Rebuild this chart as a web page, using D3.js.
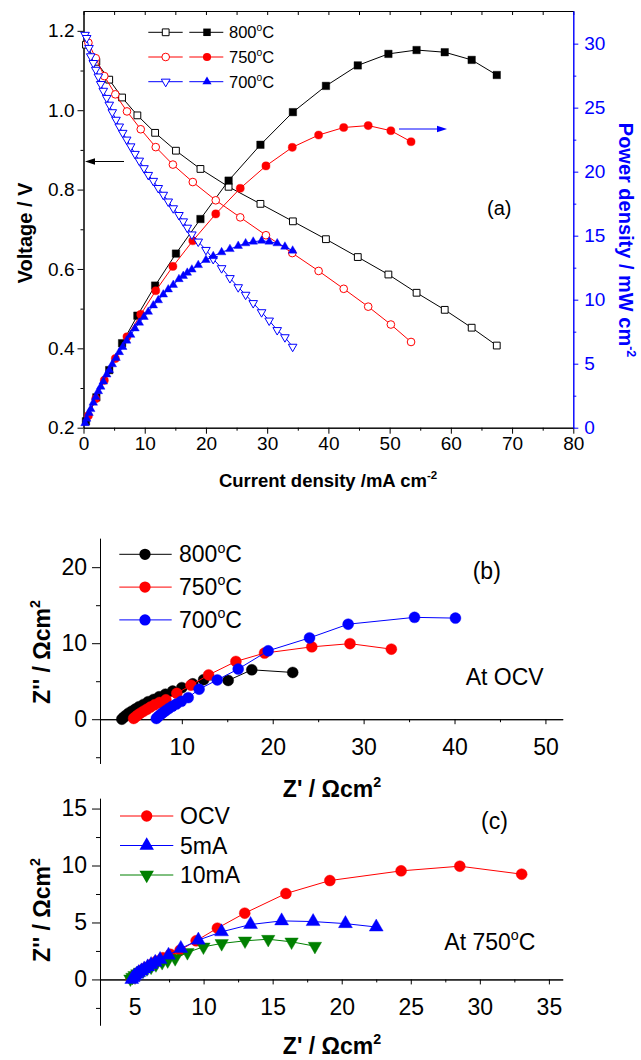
<!DOCTYPE html>
<html>
<head>
<meta charset="utf-8">
<script src="https://cdn.jsdelivr.net/npm/d3@7"></script>
<style>
body { margin: 0; background: #fff; }
svg { display: block; font-family: "Liberation Sans", Arial, sans-serif; }
</style>
</head>
<body>
<div id="container"></div>
<script>
// ---- panel (a): I-V and I-P curves ----
const cur800  = [0.4, 2.1, 4.2, 6.3, 8.8, 11.7, 15.1, 19.1, 23.7, 28.9, 34.2, 39.6, 44.8, 49.8, 54.4, 59.0, 63.4, 67.5];
const volt800 = [1.165, 1.122, 1.077, 1.032, 0.987, 0.943, 0.898, 0.852, 0.807, 0.764, 0.720, 0.675, 0.630, 0.586, 0.540, 0.497, 0.452, 0.407];
const pow800  = [0.5, 2.37, 4.5, 6.6, 8.75, 11.1, 13.6, 16.3, 19.3, 22.1, 24.65, 26.7, 28.3, 29.2, 29.5, 29.33, 28.73, 27.55];

const cur750  = [0.8, 2.0, 3.4, 5.2, 7.1, 9.35, 11.8, 14.6, 17.85, 21.6, 25.6, 29.8, 34.1, 38.4, 42.5, 46.5, 50.2, 53.5];
const volt750 = [1.170, 1.131, 1.086, 1.040, 0.997, 0.952, 0.907, 0.863, 0.819, 0.773, 0.730, 0.685, 0.640, 0.595, 0.550, 0.505, 0.460, 0.416];
const pow750  = [0.94, 2.26, 3.7, 5.4, 7.1, 8.85, 10.7, 12.6, 14.6, 16.7, 18.7, 20.45, 21.9, 22.86, 23.45, 23.6, 23.2, 22.34];

const cur700  = [0.25, 0.52, 0.9, 1.18, 1.6, 2.0, 2.42, 2.81, 3.23, 3.79, 4.21, 4.7, 5.31, 5.84, 6.4, 7.05, 7.7, 8.41, 9.11, 9.88,
                 10.58, 11.4, 12.21, 13.03, 13.84, 14.66, 15.59, 16.29, 16.95, 17.7, 18.74, 20.0, 21.19, 22.56, 23.92, 25.27, 26.48, 27.72, 29.09, 30.33,
                 31.64, 32.9, 34.16];
const volt700 = [1.19, 1.182, 1.157, 1.136, 1.119, 1.102, 1.085, 1.066, 1.049, 1.031, 1.014, 0.995, 0.976, 0.959, 0.943, 0.926, 0.909, 0.890, 0.873, 0.854,
                 0.837, 0.822, 0.804, 0.787, 0.770, 0.753, 0.736, 0.720, 0.704, 0.687, 0.669, 0.648, 0.625, 0.602, 0.577, 0.554, 0.535, 0.514, 0.491, 0.470,
                 0.446, 0.428, 0.404];
const pow700  = [0.35, 0.7, 1.15, 1.45, 1.95, 2.4, 2.85, 3.2, 3.6, 4.15, 4.5, 4.95, 5.45, 5.9, 6.3, 6.8, 7.25, 7.75, 8.2, 8.65,
                 9.05, 9.55, 9.95, 10.4, 10.8, 11.15, 11.6, 11.85, 12.1, 12.35, 12.7, 13.1, 13.4, 13.7, 13.95, 14.2, 14.4, 14.53, 14.6, 14.53,
                 14.4, 14.14, 13.83];

const xTicksA = [0, 10, 20, 30, 40, 50, 60, 70, 80];
const vTicks  = [0.2, 0.4, 0.6, 0.8, 1.0, 1.2];
const pTicks  = [0, 5, 10, 15, 20, 25, 30];

// ---- panel (b): impedance at OCV ----
const z800re = [3.4, 3.6, 3.85, 4.15, 4.5, 4.9, 5.3, 5.8, 6.3, 6.9, 7.5, 8.2, 9.0, 10.0, 11.2, 12.4, 15.1, 17.7, 22.2];
const z800im = [0.0, 0.25, 0.5, 0.8, 1.05, 1.35, 1.65, 1.95, 2.3, 2.6, 2.95, 3.3, 3.7, 4.15, 4.65, 5.2, 5.1, 6.5, 6.15];
const z750re = [4.7, 4.9, 5.15, 5.45, 5.8, 6.15, 6.55, 7.0, 7.55, 8.25, 9.45, 11.0, 12.95, 15.95, 19.1, 24.3, 28.5, 33.05];
const z750im = [0.1, 0.3, 0.55, 0.8, 1.05, 1.3, 1.6, 1.9, 2.2, 2.55, 3.4, 4.48, 5.83, 7.6, 8.7, 9.52, 9.94, 9.22];
const z700re = [7.2, 7.4, 7.65, 7.9, 8.2, 8.55, 8.95, 9.4, 9.95, 10.7, 11.9, 13.9, 16.2, 19.5, 24.05, 28.3, 35.6, 40.1];
const z700im = [0.1, 0.35, 0.6, 0.85, 1.1, 1.4, 1.7, 2.0, 2.35, 2.84, 3.95, 5.17, 6.6, 9.0, 10.7, 12.5, 13.4, 13.3];

const xTicksB = [10, 20, 30, 40, 50];
const yTicksB = [0, 10, 20];

// ---- panel (c): impedance at 750 C under load ----
const zOcvRe = [4.75, 4.95, 5.2, 5.5, 5.85, 6.2, 6.6, 7.05, 7.6, 8.3, 9.46, 11.0, 12.98, 15.96, 19.14, 24.3, 28.55, 33.03];
const zOcvIm = [0.1, 0.3, 0.55, 0.8, 1.05, 1.3, 1.6, 1.9, 2.2, 2.57, 3.39, 4.5, 5.82, 7.54, 8.68, 9.53, 9.94, 9.24];
const z5Re  = [4.8, 4.9, 5.0, 5.15, 5.3, 5.5, 5.7, 5.95, 6.2, 6.5, 6.85, 7.46, 8.35, 9.62, 11.3, 13.4, 15.65, 17.93, 20.27, 22.5];
const z5Im  = [0.0, 0.15, 0.3, 0.45, 0.6, 0.75, 0.92, 1.1, 1.3, 1.5, 1.75, 2.13, 2.72, 3.45, 4.18, 4.82, 5.14, 5.08, 4.9, 4.6];
const z10Re = [4.7, 4.85, 5.0, 5.2, 5.4, 5.65, 5.9, 6.2, 6.55, 7.0, 7.4, 7.94, 8.83, 9.99, 11.31, 13.0, 14.68, 16.37, 18.06];
const z10Im = [0.05, 0.2, 0.35, 0.5, 0.65, 0.8, 0.95, 1.1, 1.3, 1.5, 1.65, 1.84, 2.37, 2.86, 3.16, 3.39, 3.53, 3.3, 2.92];

const xTicksC = [5, 10, 15, 20, 25, 30, 35];
const yTicksC = [0, 5, 10, 15];

const RED = "#ff0000", BLUE = "#0000ff", GREEN = "#008000";

const svg = d3.select("#container").append("svg")
  .attr("width", 641).attr("height", 1060)
  .style("background-color", "white");

// draw a connected series with symbols
function series(g, xs, ys, sx, sy, o) {
  const pts = xs.map((x, i) => [sx(x), sy(ys[i])]);
  g.append("path").attr("d", d3.line()(pts))
    .attr("fill", "none").attr("stroke", o.color).attr("stroke-width", 1);
  g.selectAll(null).data(pts).enter().append("path")
    .attr("transform", d => "translate(" + d[0] + "," + d[1] + ")" + (o.down ? " rotate(180)" : ""))
    .attr("d", d3.symbol(o.type, o.size)())
    .attr("fill", o.open ? "#fff" : o.color)
    .attr("stroke", o.color)
    .attr("stroke-width", o.open ? 1 : 0.4);
}

function styleAxis(g, fs, color) {
  g.attr("font-size", fs).attr("font-family", null);
  g.selectAll("path, line").attr("stroke", color || "#000");
  g.selectAll("text").attr("fill", color || "#000");
  return g;
}

// text with superscript parts: parts = ["800", ["o"], "C"]
function label(parent, x, y, parts, o) {
  const fs = o.fs;
  const t = parent.append("text")
    .attr("transform", "translate(" + x + "," + y + ")" + (o.rotate ? " rotate(" + o.rotate + ")" : ""))
    .attr("font-size", fs)
    .attr("font-weight", o.bold ? "bold" : null)
    .attr("fill", o.color || "#000")
    .attr("text-anchor", o.anchor || "start");
  let up = false;
  parts.forEach(p => {
    if (Array.isArray(p)) {
      t.append("tspan").attr("font-size", fs * 0.62).attr("dy", -fs * 0.42).text(p[0]);
      up = true;
    } else {
      const s = t.append("tspan").text(p);
      if (up) { s.attr("dy", fs * 0.42); up = false; }
    }
  });
  return t;
}

// =================== panel (a) ===================
const xA = d3.scaleLinear().domain([0, 80]).range([83.5, 573.3]);
const yV = d3.scaleLinear().domain([0.2, 1.25]).range([427.7, 11]);
const yP = d3.scaleLinear().domain([0, 32.55]).range([427.7, 11]);

const gA = svg.append("g");

// top frame line with inward ticks
styleAxis(gA.append("g").attr("transform", "translate(0,11)")
  .call(d3.axisBottom(xA).tickValues(d3.range(0, 81, 5)).tickSize(4).tickSizeOuter(0).tickFormat("")), 10);

styleAxis(gA.append("g").attr("transform", "translate(0,427.7)")
  .call(d3.axisBottom(xA).tickValues(d3.range(5, 80, 10)).tickSize(3).tickSizeOuter(0).tickFormat("")), 10);
const axA = styleAxis(gA.append("g").attr("transform", "translate(0,427.7)")
  .call(d3.axisBottom(xA).tickValues(xTicksA).tickSize(6).tickSizeOuter(0)), 19);
axA.selectAll("text").attr("y", 22.5).attr("dy", null);

styleAxis(gA.append("g").attr("transform", "translate(83.5,0)")
  .call(d3.axisLeft(yV).tickValues(d3.range(0.3, 1.25, 0.2)).tickSize(3).tickSizeOuter(0).tickFormat("")), 10);
styleAxis(gA.append("g").attr("transform", "translate(83.5,0)")
  .call(d3.axisLeft(yV).tickValues(vTicks).tickSize(6).tickPadding(3).tickSizeOuter(0).tickFormat(d3.format(".1f"))), 19);

styleAxis(gA.append("g").attr("transform", "translate(573.3,0)")
  .call(d3.axisRight(yP).tickValues(d3.range(2.5, 30, 5)).tickSize(3).tickSizeOuter(0).tickFormat("")), 10, BLUE);
styleAxis(gA.append("g").attr("transform", "translate(573.3,0)")
  .call(d3.axisRight(yP).tickValues(pTicks).tickSize(5).tickPadding(6).tickSizeOuter(0)), 19, BLUE);

const sq = d3.symbolSquare, ci = d3.symbolCircle, tr = d3.symbolTriangle;
series(gA, cur800, volt800, xA, yV, { color: "#000", type: sq, size: 46, open: true });
series(gA, cur800, pow800, xA, yP, { color: "#000", type: sq, size: 56 });
series(gA, cur750, volt750, xA, yV, { color: RED, type: ci, size: 46, open: true });
series(gA, cur750, pow750, xA, yP, { color: RED, type: ci, size: 52 });
series(gA, cur700, volt700, xA, yV, { color: BLUE, type: tr, size: 32, open: true, down: true });
series(gA, cur700, pow700, xA, yP, { color: BLUE, type: tr, size: 32 });

// legend (a)
const legA = [
  { name: "800", color: "#000", type: sq, s1: 46, s2: 56, down: false },
  { name: "750", color: RED, type: ci, s1: 46, s2: 52, down: false },
  { name: "700", color: BLUE, type: tr, s1: 34, s2: 36, down: true }
];
legA.forEach((d, i) => {
  const y = 32.3 + i * 24.7;
  const g = gA.append("g");
  g.append("line").attr("x1", 148.3).attr("x2", 182.7).attr("y1", y).attr("y2", y).attr("stroke", d.color);
  g.append("line").attr("x1", 189.3).attr("x2", 223.3).attr("y1", y).attr("y2", y).attr("stroke", d.color);
  g.append("path").attr("transform", "translate(165.7," + y + ")" + (d.down ? " rotate(180)" : ""))
    .attr("d", d3.symbol(d.type, d.s1)()).attr("fill", "#fff").attr("stroke", d.color);
  g.append("path").attr("transform", "translate(207," + y + ")")
    .attr("d", d3.symbol(d.type, d.s2)()).attr("fill", d.color);
  label(g, 229, y + 6, [d.name, ["o"], "C"], { fs: 16.5 });
});

// arrows
gA.append("line").attr("x1", 124).attr("x2", 92).attr("y1", 161.5).attr("y2", 161.5).attr("stroke", "#000");
gA.append("path").attr("d", "M85,161.5L95,158.3L95,164.7Z").attr("fill", "#000");
gA.append("line").attr("x1", 399).attr("x2", 440).attr("y1", 129).attr("y2", 129).attr("stroke", BLUE);
gA.append("path").attr("d", "M447,129L437,125.8L437,132.2Z").attr("fill", BLUE);

label(gA, 487, 215, ["(a)"], { fs: 20 });
label(gA, 328, 487, ["Current density /mA cm", ["-2"]], { fs: 18.5, bold: true, anchor: "middle" });
label(gA, 32, 233, ["Voltage / V"], { fs: 20, bold: true, anchor: "middle", rotate: -90 });
label(gA, 619, 240, ["Power density / mW cm", ["-2"]], { fs: 20, bold: true, anchor: "middle", rotate: 90, color: BLUE });

// =================== panel (b) ===================
const xB = d3.scaleLinear().domain([1, 51.9]).range([100, 562.7]);
const yB = d3.scaleLinear().domain([-5.8, 23.8]).range([763.3, 538.3]);
const gB = svg.append("g");

styleAxis(gB.append("g").attr("transform", "translate(100,0)")
  .call(d3.axisLeft(yB).tickValues([-5, 5, 15]).tickSize(4).tickSizeOuter(0).tickFormat("")), 10);
styleAxis(gB.append("g").attr("transform", "translate(100,0)")
  .call(d3.axisLeft(yB).tickValues(yTicksB).tickSize(8).tickPadding(5).tickSizeOuter(0)), 23);
styleAxis(gB.append("g").attr("transform", "translate(0," + yB(0) + ")")
  .call(d3.axisBottom(xB).tickValues([5, 15, 25, 35, 45]).tickSize(3).tickSizeOuter(0).tickFormat("")), 10);
const axB = styleAxis(gB.append("g").attr("transform", "translate(0," + yB(0) + ")")
  .call(d3.axisBottom(xB).tickValues(xTicksB).tickSize(5).tickSizeOuter(0)), 23);
axB.selectAll("text").attr("y", 35.7).attr("dy", null);

series(gB, z800re, z800im, xB, yB, { color: "#000", type: ci, size: 95 });
series(gB, z750re, z750im, xB, yB, { color: RED, type: ci, size: 95 });
series(gB, z700re, z700im, xB, yB, { color: BLUE, type: ci, size: 95 });

[["800", "#000"], ["750", RED], ["700", BLUE]].forEach((d, i) => {
  const y = 554.3 + i * 32.8;
  gB.append("line").attr("x1", 119.3).attr("x2", 171.7).attr("y1", y).attr("y2", y).attr("stroke", d[1]);
  gB.append("path").attr("transform", "translate(145," + y + ")").attr("d", d3.symbol(ci, 100)()).attr("fill", d[1]);
  label(gB, 179, y + 8, [d[0], ["o"], "C"], { fs: 23 });
});

label(gB, 472.7, 578.5, ["(b)"], { fs: 23 });
label(gB, 465.7, 685, ["At OCV"], { fs: 23 });
label(gB, 332, 797, ["Z' / \u03A9cm", ["2"]], { fs: 23, bold: true, anchor: "middle" });
label(gB, 50, 652, ["Z'' / \u03A9cm", ["2"]], { fs: 23, bold: true, anchor: "middle", rotate: -90 });

// =================== panel (c) ===================
const xC = d3.scaleLinear().domain([2.5, 36]).range([100, 562.7]);
const yC = d3.scaleLinear().domain([-4, 15.9]).range([1025, 798.3]);
const gC = svg.append("g");

styleAxis(gC.append("g").attr("transform", "translate(100,0)")
  .call(d3.axisLeft(yC).tickValues([-2.5, 2.5, 7.5, 12.5]).tickSize(4).tickSizeOuter(0).tickFormat("")), 10);
styleAxis(gC.append("g").attr("transform", "translate(100,0)")
  .call(d3.axisLeft(yC).tickValues(yTicksC).tickSize(8).tickPadding(5).tickSizeOuter(0)), 23);
styleAxis(gC.append("g").attr("transform", "translate(0," + yC(0) + ")")
  .call(d3.axisBottom(xC).tickValues([7.5, 12.5, 17.5, 22.5, 27.5, 32.5]).tickSize(3).tickSizeOuter(0).tickFormat("")), 10);
const axC = styleAxis(gC.append("g").attr("transform", "translate(0," + yC(0) + ")")
  .call(d3.axisBottom(xC).tickValues(xTicksC).tickSize(5).tickSizeOuter(0)), 23);
axC.selectAll("text").attr("y", 35.7).attr("dy", null);

series(gC, zOcvRe, zOcvIm, xC, yC, { color: RED, type: ci, size: 95 });
series(gC, z10Re, z10Im, xC, yC, { color: GREEN, type: tr, size: 78, down: true });
series(gC, z5Re, z5Im, xC, yC, { color: BLUE, type: tr, size: 84 });

[["OCV", RED, ci, 100, false], ["5mA", BLUE, tr, 90, false], ["10mA", GREEN, tr, 90, true]].forEach((d, i) => {
  const y = 816 + i * 29.5;
  gC.append("line").attr("x1", 120).attr("x2", 173.3).attr("y1", y).attr("y2", y).attr("stroke", d[1]);
  gC.append("path").attr("transform", "translate(146.7," + y + ")" + (d[4] ? " rotate(180)" : ""))
    .attr("d", d3.symbol(d[2], d[3])()).attr("fill", d[1]);
  label(gC, 180, y + 8, [d[0]], { fs: 23 });
});

label(gC, 481, 828.5, ["(c)"], { fs: 23 });
label(gC, 444.3, 950, ["At 750", ["o"], "C"], { fs: 23 });
label(gC, 332, 1054, ["Z' / \u03A9cm", ["2"]], { fs: 23, bold: true, anchor: "middle" });
label(gC, 50, 910, ["Z'' / \u03A9cm", ["2"]], { fs: 23, bold: true, anchor: "middle", rotate: -90 });
</script>
</body>
</html>
